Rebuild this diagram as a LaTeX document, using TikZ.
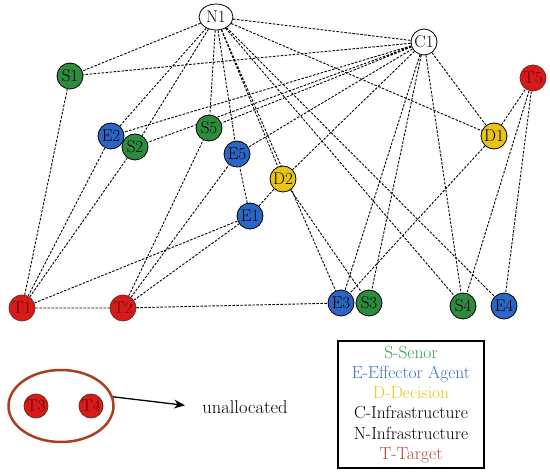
\documentclass[tikz,border=0pt]{standalone}
\usepackage{fontspec}
\usetikzlibrary{arrows.meta, shapes.geometric, backgrounds}
\definecolor{sgreen}{HTML}{2E8B3E}
\definecolor{eblue}{HTML}{2B66C4}
\definecolor{dyellow}{HTML}{E8C416}
\definecolor{tred}{HTML}{D9191A}
\definecolor{tbrown}{HTML}{6A3018}
\definecolor{tdark}{HTML}{5A0C08}
\definecolor{ringred}{HTML}{A8401F}
\definecolor{lgreen}{HTML}{3A9A4A}
\definecolor{lblue}{HTML}{4070C0}
\definecolor{lyellow}{HTML}{E6C41A}
\definecolor{lred}{HTML}{B5452B}

\begin{document}
\begin{tikzpicture}[
  x=1pt, y=-1pt,
  >={Stealth[length=11pt, width=9pt]},
  link/.style={dash pattern=on 2.5pt off 1.5pt, line width=0.9pt, black},
  arr/.style={->, line width=1.3pt, black},
]

% =============================================
% Node styles
% =============================================
\tikzset{
  agent/.style={
    circle, draw=black, line width=0.8pt, fill=#1,
    minimum size=26pt, inner sep=0pt,
    font=\fontsize{17}{17}\selectfont,
  },
  target/.style={agent=tred, draw=tbrown, text=tdark},
  infra/.style={agent=white},
}

\useasboundingbox (0,0) rectangle (550,476);

% =============================================
% Infrastructure
% =============================================
\node[infra, ellipse, minimum width=34pt] (N1) at (216,17) {N1};
\node[infra] (C1) at (424,42) {C1};

% =============================================
% Sensors, effectors, decisions
% =============================================
\node[agent=sgreen] (S1) at (70,76) {S1};
\node[agent=eblue] (E2) at (111,136) {E2};
\node[agent=sgreen] (S2) at (135,147) {S2};
\node[agent=sgreen] (S5) at (209,128) {S5};
\node[agent=eblue] (E5) at (237,154) {E5};
\node[agent=dyellow] (D2) at (283,179) {D2};
\node[agent=eblue] (E1) at (250,216) {E1};
\node[agent=dyellow] (D1) at (494,136) {D1};
\node[agent=eblue] (E3) at (341,303) {E3};
\node[agent=sgreen] (S3) at (369,303) {S3};
\node[agent=sgreen] (S4) at (463,306) {S4};
\node[agent=eblue] (E4) at (504,306) {E4};

% =============================================
% Targets
% =============================================
\node[target] (T1) at (22,308) {T1};
\node[target] (T2) at (123,308) {T2};
\node[target] (T5) at (533,78) {T5};

% =============================================
% Links (behind the nodes)
% =============================================
\begin{scope}[on background layer]
\draw[link] (N1) -- (C1) (N1) -- (S1) (N1) -- (E2) (N1) -- (S2)
  (N1) -- (S5) (N1) -- (E5) (N1) -- (D2) (N1) -- (E3)
  (N1) -- (S4) (N1) -- (E4) (N1) -- (D1);
\draw[link] (C1) -- (S1) (C1) -- (E2) (C1) -- (S2) (C1) -- (S5)
  (C1) -- (E5) (C1) -- (D2) (C1) -- (E3) (C1) -- (S3)
  (C1) -- (S4) (C1) -- (D1);
\draw[link] (T1) -- (S1) (T1) -- (E2) (T1) -- (S2) (T1) -- (E1) (T1) -- (T2);
\draw[link] (T2) -- (S5) (T2) -- (E5) (T2) -- (E1) (T2) -- (E3);
\draw[link] (E1) -- (E5) (E1) -- (D2) (D2) -- (S3);
\draw[link] (D1) -- (T5) (D1) -- (E3) (T5) -- (S4) (T5) -- (E4);
\end{scope}

% =============================================
% Unallocated targets
% =============================================
\node[ellipse, draw=ringred, line width=2.5pt, minimum width=105pt,
  minimum height=72pt] (grp) at (61,406) {};
\node[target, minimum size=24pt] (T3) at (36,406) {T3};
\node[target, minimum size=24pt] (T4) at (91,406) {T4};
\node[font=\fontsize{18.5}{18.5}\selectfont] (ua) at (245,407) {unallocated};
\draw[arr, shorten >=14pt] (grp.10) -- (ua.west);

% =============================================
% Legend
% =============================================
\node[draw=black, line width=1.2pt, minimum width=146pt, minimum height=127pt,
  align=center, font=\fontsize{17.5}{20.3}\selectfont] (legend) at (411,404.5)
  {\textcolor{lgreen}{S-Senor}\\
   \textcolor{lblue}{E-Effector Agent}\\
   \textcolor{lyellow}{D-Decision}\\
   C-Infrastructure\\
   N-Infrastructure\\
   \textcolor{lred}{T-Target}};

\end{tikzpicture}
\end{document}
